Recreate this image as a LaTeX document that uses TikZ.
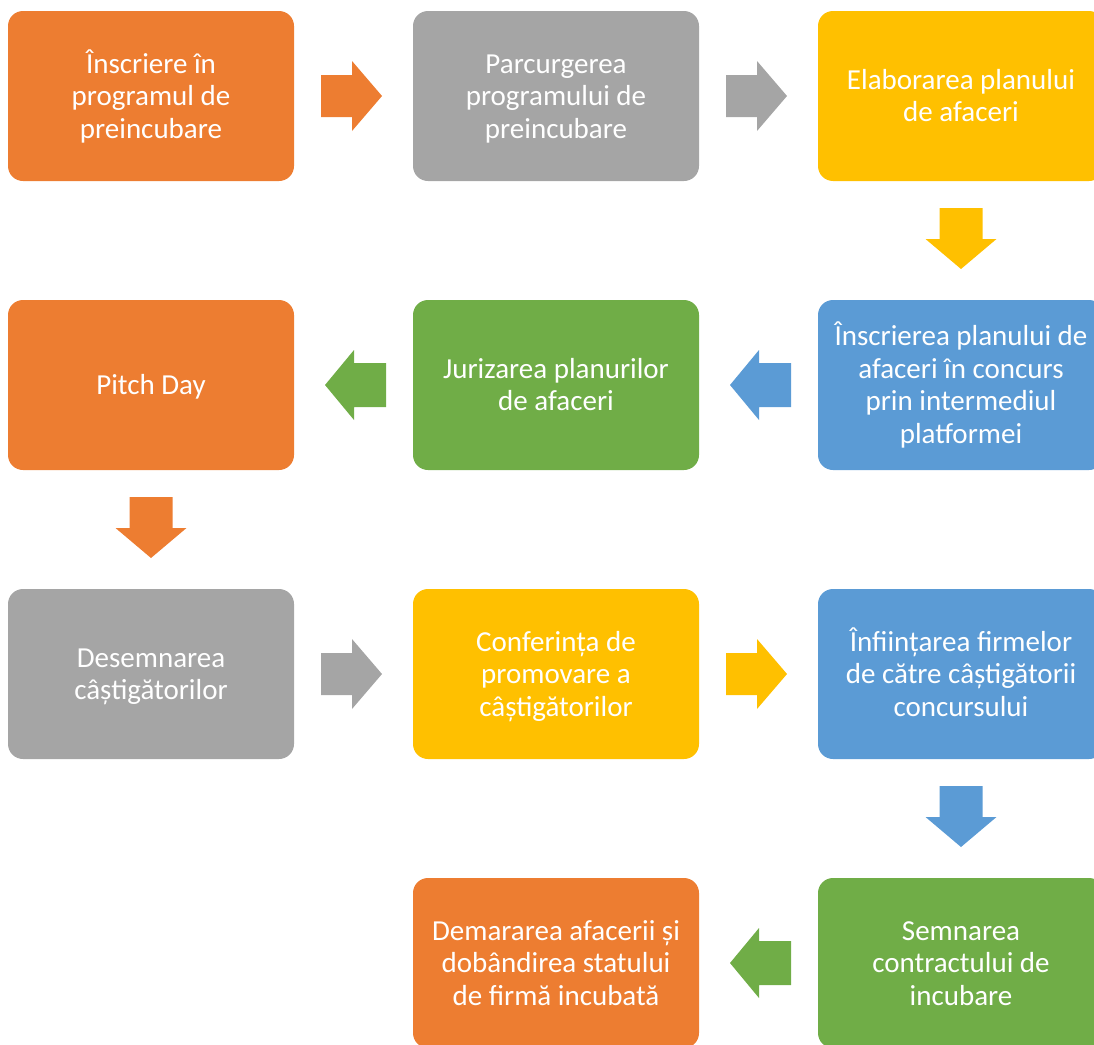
\documentclass[tikz,border=0pt]{standalone}
\usepackage{fontspec}
\setmainfont{Carlito}
\definecolor{cOrange}{HTML}{ED7D31}
\definecolor{cGray}{HTML}{A5A5A5}
\definecolor{cYellow}{HTML}{FFC000}
\definecolor{cBlue}{HTML}{5B9BD5}
\definecolor{cGreen}{HTML}{70AD47}
\newcommand{\tstrut}{\rule[-6.75pt]{0pt}{32.5pt}}
\begin{document}
\begin{tikzpicture}[x=1pt,y=-1pt,
  stepbox/.style={rectangle, rounded corners=15pt, minimum width=286pt, minimum height=170pt,
    inner sep=0pt, text=white, align=center, font=\fontsize{29}{32.5}\selectfont},
]
\useasboundingbox (0,0) rectangle (1094,1044);
% boxes
\node[stepbox, fill=cOrange] (b1) at (151,96) {\tstrut Înscriere în\\\tstrut programul de\\\tstrut preincubare};
\node[stepbox, fill=cGray] (b2) at (556,96) {\tstrut Parcurgerea\\\tstrut programului de\\\tstrut preincubare};
\node[stepbox, fill=cYellow] (b3) at (961,96) {\tstrut Elaborarea planului\\\tstrut de afaceri};
\node[stepbox, fill=cBlue] (b4) at (961,385) {\tstrut Înscrierea planului de\\\tstrut afaceri în concurs\\\tstrut prin intermediul\\\tstrut platformei};
\node[stepbox, fill=cGreen] (b5) at (556,385) {\tstrut Jurizarea planurilor\\\tstrut de afaceri};
\node[stepbox, fill=cOrange] (b6) at (151,385) {\tstrut Pitch Day};
\node[stepbox, fill=cGray] (b7) at (151,674) {\tstrut Desemnarea\\\tstrut câștigătorilor};
\node[stepbox, fill=cYellow] (b8) at (556,674) {\tstrut Conferința de\\\tstrut promovare a\\\tstrut câștigătorilor};
\node[stepbox, fill=cBlue] (b9) at (961,674) {\tstrut Înființarea firmelor\\\tstrut de către câștigătorii\\\tstrut concursului};
\node[stepbox, fill=cGreen] (b10) at (961,963) {\tstrut Semnarea\\\tstrut contractului de\\\tstrut incubare};
\node[stepbox, fill=cOrange] (b11) at (556,963) {\tstrut Demararea afacerii și\\\tstrut dobândirea statului\\\tstrut de firmă incubată};
% block arrows: right (neck at x), left, down
\newcommand{\rarrow}[3]{\fill[#3] (#1-31,#2-21) -- (#1,#2-21) -- (#1,#2-35) -- (#1+30,#2) -- (#1,#2+35) -- (#1,#2+21) -- (#1-31,#2+21) -- cycle;}
\newcommand{\larrow}[3]{\fill[#3] (#1+32,#2-22) -- (#1,#2-22) -- (#1,#2-35) -- (#1-29,#2) -- (#1,#2+35) -- (#1,#2+22) -- (#1+32,#2+22) -- cycle;}
\newcommand{\darrow}[3]{\fill[#3] (#1-21.5,#2-31) -- (#1-21.5,#2) -- (#1-35.5,#2) -- (#1,#2+30) -- (#1+35.5,#2) -- (#1+21.5,#2) -- (#1+21.5,#2-31) -- cycle;}
\rarrow{352}{96}{cOrange}
\rarrow{757}{96}{cGray}
\darrow{961}{239}{cYellow}
\larrow{759}{385}{cBlue}
\larrow{354}{385}{cGreen}
\darrow{151}{528}{cOrange}
\rarrow{352}{674}{cGray}
\rarrow{757}{674}{cYellow}
\darrow{961}{817}{cBlue}
\larrow{759}{963}{cGreen}
\end{tikzpicture}
\end{document}
